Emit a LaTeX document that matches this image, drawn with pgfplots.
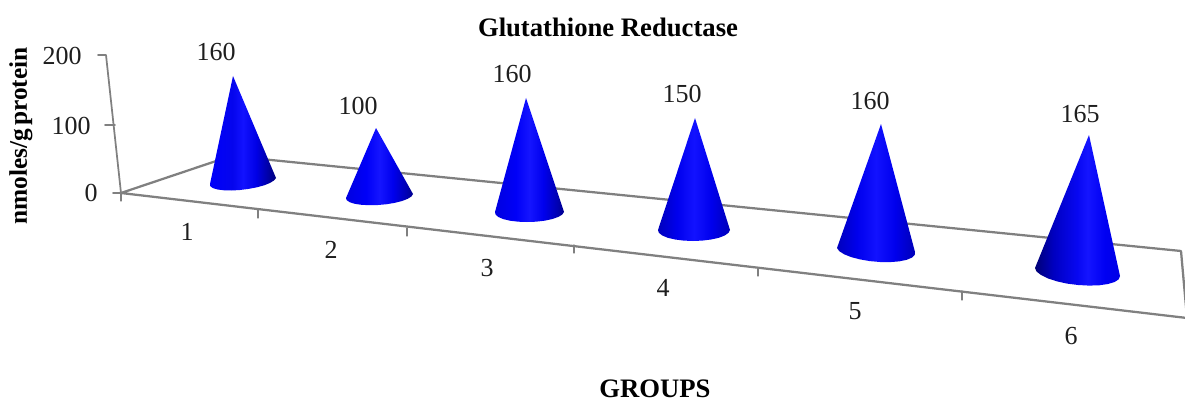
\documentclass[border=0pt]{standalone}
\usepackage{pgfplots}
\pgfplotsset{compat=1.18}
\usepackage{fontspec}
\setmainfont{Liberation Serif}
\definecolor{axgray}{RGB}{128,128,128}
\definecolor{txt}{RGB}{30,30,30}
\pgfdeclarehorizontalshading{coneA}{100bp}{rgb(0bp)=(0,0,.98);rgb(25bp)=(0,0,.98);rgb(42bp)=(.02,.02,.93);rgb(50bp)=(.07,.07,1);rgb(60bp)=(0,0,.9);rgb(70bp)=(0,0,.62);rgb(75bp)=(0,0,.48);rgb(100bp)=(0,0,.48)}
\pgfdeclarehorizontalshading{coneB}{100bp}{rgb(0bp)=(0,0,.88);rgb(25bp)=(0,0,.88);rgb(40bp)=(0,0,.97);rgb(50bp)=(.08,.08,1);rgb(60bp)=(0,0,.93);rgb(70bp)=(0,0,.7);rgb(75bp)=(0,0,.55);rgb(100bp)=(0,0,.55)}
\pgfdeclarehorizontalshading{coneC}{100bp}{rgb(0bp)=(0,0,.74);rgb(25bp)=(0,0,.74);rgb(38bp)=(0,0,.93);rgb(50bp)=(.07,.07,1);rgb(62bp)=(0,0,.93);rgb(75bp)=(0,0,.72);rgb(100bp)=(0,0,.72)}
\pgfdeclarehorizontalshading{coneD}{100bp}{rgb(0bp)=(0,0,.46);rgb(25bp)=(0,0,.46);rgb(36bp)=(0,0,.76);rgb(50bp)=(.03,.03,.95);rgb(56bp)=(.08,.08,1);rgb(66bp)=(0,0,.95);rgb(75bp)=(0,0,.9);rgb(100bp)=(0,0,.9)}
\pgfplotstableread{
x y label
216 52 160
358 106 100
512 74 160
682 94 150
870 101 160
1080 114 165
}\valuelabels
\pgfplotstableread{
x y label
187 232 1
331 250 2
487 268 3
663 288 4
855 311 5
1071 336 6
62 56 200
71 126 100
91 193 0
}\ticklabels
\begin{document}
\begin{tikzpicture}
\useasboundingbox (0,0) rectangle (888.75pt,302.25pt);
\begin{axis}[
  at={(0,0)}, anchor=south west,
  scale only axis, width=888.75pt, height=302.25pt,
  xmin=0, xmax=1185, ymin=0, ymax=403, y dir=reverse,
  hide axis, clip=true,
  every axis plot/.append style={line cap=round,line join=round},
]
% floor and walls
\addplot[axgray,line width=1.7pt] coordinates {(121,193) (231,156) (1181,251) (1187,318) (121,193)};
\addplot[axgray,line width=1.3pt] coordinates {(113,193) (121,193) (106,55) (98,55)};
\addplot[axgray,line width=1.3pt] coordinates {(115,125) (105,125)};
\addplot[axgray,line width=.8pt] coordinates {(121,193) (121,201)};
\addplot[axgray,line width=.8pt] coordinates {(258,210) (258,218)};
\addplot[axgray,line width=.8pt] coordinates {(407,228) (407,236)};
\addplot[axgray,line width=.8pt] coordinates {(574,245) (574,253)};
\addplot[axgray,line width=.8pt] coordinates {(758,268) (758,276)};
\addplot[axgray,line width=.8pt] coordinates {(962,291) (962,300)};
% cones
\addplot[draw=none,shading=coneA] coordinates {(233,76) (276,178) (274.1,180.4) (270.1,182.9) (264.2,185.3) (256.9,187.3) (248.6,188.9) (240,190) (231.6,190.5) (223.9,190.3) (217.6,189.5) (212.9,188.1) (210.3,186.2) (210,184)} -- cycle;
\addplot[draw=none,shading=coneB] coordinates {(376,128) (413,194) (411.5,196.4) (407.75,198.8) (402.1,201) (394.95,202.8) (386.8,204.2) (378,205) (369.4,205.2) (361.45,204.8) (354.7,203.8) (349.75,202.2) (346.7,200.2) (346,198)} -- cycle;
\addplot[draw=none,shading=coneB] coordinates {(526,98) (564,212) (562.2,214.6) (558.15,217) (552.1,219.1) (544.55,220.7) (536,221.7) (527,222) (518.2,221.7) (510.05,220.7) (503.3,219.1) (498.35,217) (495.6,214.6) (495,212)} -- cycle;
\addplot[draw=none,shading=coneC] coordinates {(695,118) (730,230) (728.5,232.8) (724.7,235.5) (718.8,237.8) (711.1,239.5) (702.3,240.6) (693,241) (683.7,240.6) (675.1,239.5) (667.8,237.8) (662.3,235.5) (658.9,232.8) (658,230)} -- cycle;
\addplot[draw=none,shading=coneC] coordinates {(881,124) (915,252) (914.7,255) (911.8,257.7) (906.4,259.9) (899,261.4) (890,262.1) (880,262) (869.8,261.1) (860,259.4) (851.2,257.1) (844.2,254.3) (839.3,251.2) (837,248)} -- cycle;
\addplot[draw=none,shading=coneD] coordinates {(1089,135) (1120,276) (1118.7,279.3) (1114.6,282) (1107.9,284) (1099.2,285.3) (1089,285.6) (1078,285) (1067,283.6) (1056.7,281.3) (1047.9,278.4) (1041,275) (1036.5,271.5) (1035,268)} -- cycle;
% labels
\addplot[draw=none,mark=none,point meta=explicit symbolic,nodes near coords,
  nodes near coords style={anchor=center,font=\fontsize{19.5}{20}\selectfont,text=txt}]
  table[x=x,y=y,meta=label] {\valuelabels};
\addplot[draw=none,mark=none,point meta=explicit symbolic,nodes near coords,
  nodes near coords style={anchor=center,font=\fontsize{19.5}{20}\selectfont,text=txt}]
  table[x=x,y=y,meta=label] {\ticklabels};
\node[font=\bfseries\fontsize{20}{22}\selectfont] at (axis cs:608,27) {Glutathione Reductase};
\node[font=\bfseries\fontsize{20}{22}\selectfont] at (axis cs:655,389) {GROUPS};
\node[font=\bfseries\fontsize{19}{20}\selectfont,rotate=90] at (axis cs:21,136) {nmoles/g\hspace{-.12em} protein};
\end{axis}
\end{tikzpicture}
\end{document}
